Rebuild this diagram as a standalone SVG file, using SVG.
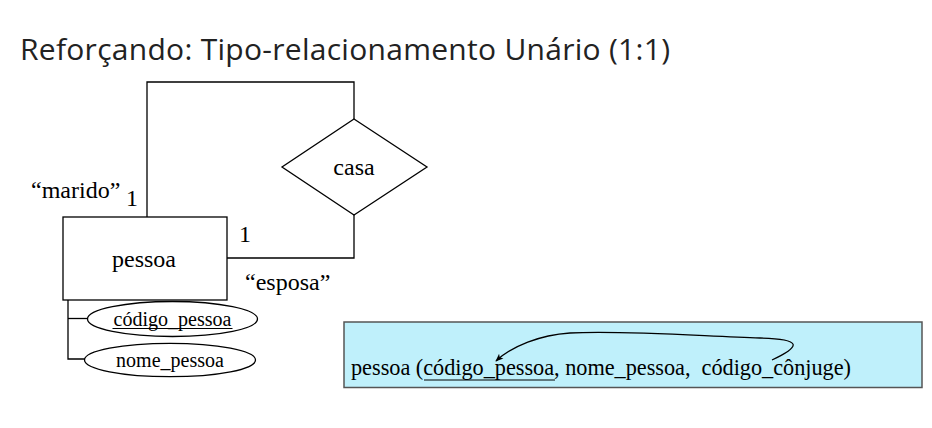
<svg xmlns="http://www.w3.org/2000/svg" width="932" height="428" viewBox="0 0 932 428">
<defs>
<style>
.title{font-family:"Open Sans","Liberation Sans",sans-serif;font-size:30px;fill:#222}
.t{font-family:"Liberation Serif","Times New Roman",serif;fill:#000}
.big{font-size:24px}
.att{font-size:20px}
.rel{font-size:22.3px}
.ln{fill:none;stroke:#000;stroke-width:1.3}
.shape{fill:#fff;stroke:#000;stroke-width:1.3}
</style>
<marker id="arr" viewBox="0 0 10 10" refX="9" refY="5" markerWidth="8" markerHeight="8" orient="auto" markerUnits="userSpaceOnUse">
<path d="M0,1 L10,5 L0,9 L2.5,5 Z" fill="#000"/>
</marker>
</defs>
<rect width="932" height="428" fill="#fff"/>
<text class="title" x="20" y="60" textLength="650">Reforçando: Tipo-relacionamento Unário (1:1)</text>

<g id="connectors">
<polyline class="ln" points="147,217 147,82 354,82 354,119"/>
<polyline class="ln" points="354,215 354,258 227,258"/>
<polyline class="ln" points="68,300 68,359 85,359"/>
<line class="ln" x1="68" y1="318.5" x2="88" y2="318.5"/>
</g>

<g id="pessoa">
<rect class="shape" x="63" y="217" width="164" height="83"/>
<text class="t big" x="144" y="267" text-anchor="middle">pessoa</text>
</g>

<g id="casa">
<polygon class="shape" points="354,119 427,167 354,215 282,167"/>
<text class="t big" x="354" y="175" text-anchor="middle">casa</text>
</g>

<g id="codigo_pessoa">
<ellipse class="shape" cx="172.5" cy="319" rx="85" ry="17.5"/>
<text class="t att" x="172.5" y="326" text-anchor="middle">código_pessoa</text>
<line x1="112.5" y1="328.5" x2="232.5" y2="328.5" stroke="#000" stroke-width="1.2"/>
</g>

<g id="nome_pessoa">
<ellipse class="shape" cx="170" cy="360" rx="85.5" ry="16.7"/>
<text class="t att" x="170" y="367" text-anchor="middle">nome_pessoa</text>
</g>

<g id="labels">
<text class="t big" x="31" y="198">“marido”</text>
<text class="t big" x="126" y="206">1</text>
<text class="t big" x="239" y="242">1</text>
<text class="t big" x="245" y="290">“esposa”</text>
</g>

<g id="relational">
<rect x="344" y="322" width="578" height="65.5" fill="#bff0fb" stroke="#555" stroke-width="1.5"/>
<text class="t rel" x="351" y="375" xml:space="preserve" textLength="500">pessoa (código_pessoa, nome_pessoa,  código_cônjuge)</text>
<line x1="424" y1="380" x2="555" y2="380" stroke="#000" stroke-width="1.2"/>
<path class="ln" d="M772,360 C802,346 802,339 760,338 C700,336 620,330 570,333 C540,335 512,346 496,361" marker-end="url(#arr)" stroke-width="1.2"/>
</g>
</svg>
